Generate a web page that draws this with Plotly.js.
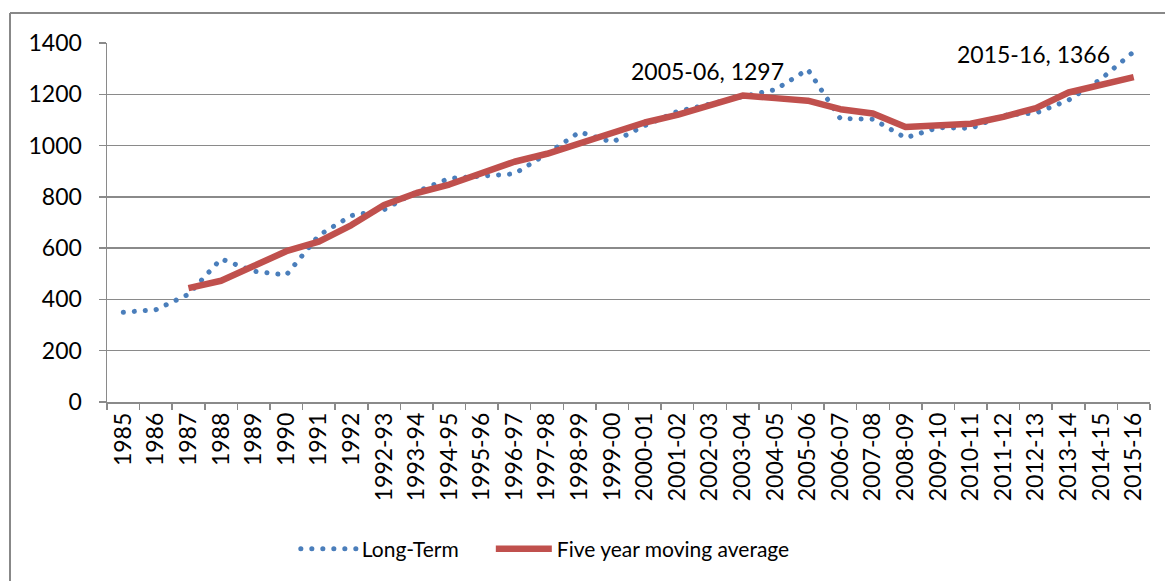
<!DOCTYPE html>
<html>
<head>
<meta charset="utf-8">
<script src="https://cdn.plot.ly/plotly-3.0.1.min.js"></script>
<style>
html,body{margin:0;padding:0;background:#fff;}
#chart{width:1165px;height:581px;}
</style>
</head>
<body>
<div id="chart"></div>
<script>
const categories = ['1985','1986','1987','1988','1989','1990','1991','1992',
  '1992-93','1993-94','1994-95','1995-96','1996-97','1997-98','1998-99','1999-00',
  '2000-01','2001-02','2002-03','2003-04','2004-05','2005-06','2006-07','2007-08',
  '2008-09','2009-10','2010-11','2011-12','2012-13','2013-14','2014-15','2015-16'];

const longTerm = [350, 360, 420, 558, 510, 495, 650, 727, 750, 820, 872, 883, 890, 968, 1053, 1013,
  1078, 1133, 1164, 1191, 1218, 1297, 1105, 1103, 1030, 1070, 1067, 1118, 1127, 1177, 1260, 1366];

const movingAvg = [null, null, 444, 473, 530, 588, 625, 690, 768, 815, 848, 893, 937, 968, 1008, 1049,
  1090, 1120, 1155, 1195, 1185, 1175, 1142, 1125, 1072, 1080, 1085, 1112, 1146, 1207, 1236, 1267];

const seriesNames = ['Long-Term', 'Five year moving average'];
const labelPoints = ['2005-06', '2015-16'];

const FONT = 'Lato, "Open Sans", sans-serif';
const FS = 23;
const LFS = 21;
const GRID = '#8a8a8a';

const labelAnnotations = labelPoints.map(c => {
  const v = longTerm[categories.indexOf(c)];
  return {
    x: c, y: v, xref: 'x', yref: 'y',
    text: c + ', ' + v, showarrow: false,
    xanchor: 'right', yanchor: 'middle', xshift: -22, yshift: -2,
    font: {family: FONT, size: FS, color: '#000'}
  };
});

const traces = [
  {
    x: categories, y: longTerm, name: seriesNames[0], type: 'scatter', mode: 'lines',
    legend: 'legend',
    line: {color: '#4A7EBB', width: 5, dash: '0.1px,10.9px'}
  },
  {
    x: categories, y: movingAvg, name: seriesNames[1], type: 'scatter', mode: 'lines',
    legend: 'legend2', connectgaps: false,
    line: {color: '#C0504D', width: 6.5}
  }
];

const legendBase = {
  orientation: 'h', xanchor: 'left', y: -0.41, yanchor: 'middle',
  font: {family: FONT, size: LFS, color: '#000'}, itemwidth: 56, bgcolor: 'rgba(0,0,0,0)'
};

const layout = {
  width: 1165, height: 581,
  margin: {l: 107, r: 15, t: 43, b: 179},
  paper_bgcolor: '#fff', plot_bgcolor: '#fff',
  font: {family: FONT, size: FS, color: '#000'},
  showlegend: true,
  legend: Object.assign({}, legendBase, {x: 0.181}),
  legend2: Object.assign({}, legendBase, {x: 0.368}),
  xaxis: {
    type: 'category', range: [-0.5, 31.5],
    showline: true, linecolor: GRID, linewidth: 1.5,
    ticks: 'outside', tickson: 'boundaries', ticklen: 6, tickcolor: GRID, tickwidth: 1.5,
    tickangle: -90, showgrid: false, zeroline: false,
    tickfont: {family: FONT, size: FS, color: '#000'}
  },
  yaxis: {
    range: [0, 1400], tickvals: [0,200,400,600,800,1000,1200,1400],
    showline: true, linecolor: GRID, linewidth: 1.5,
    ticks: 'outside', ticklen: 7, tickcolor: GRID, tickwidth: 1.5,
    showgrid: true, gridcolor: GRID, gridwidth: 1.5, zeroline: false,
    ticklabelstandoff: 12,
    tickfont: {family: FONT, size: FS, color: '#000'}
  },
  annotations: labelAnnotations,
  shapes: [
    {type: 'line', xref: 'paper', yref: 'paper', x0: -0.093, x1: -0.093, y0: -0.7, y1: 1.0836,
     line: {color: '#888', width: 2}},
    {type: 'line', xref: 'paper', yref: 'paper', x0: -0.093, x1: 1.1, y0: 1.0836, y1: 1.0836,
     line: {color: '#888', width: 2}}
  ]
};

Plotly.newPlot('chart', traces, layout, {displayModeBar: false, staticPlot: true}).then(gd => {
  gd.querySelectorAll('.scatterlayer .trace:first-child path.js-line').forEach(p => {
    p.style.strokeLinecap = 'round';
  });
  gd.querySelectorAll('.legend path.js-line').forEach(p => {
    if (p.style.stroke && p.style.stroke.indexOf('74, 126, 187') >= 0) p.style.strokeLinecap = 'round';
  });
  gd.querySelectorAll('path.js-line').forEach(p => { p.style.strokeLinejoin = 'round'; });
});
</script>
</body>
</html>
